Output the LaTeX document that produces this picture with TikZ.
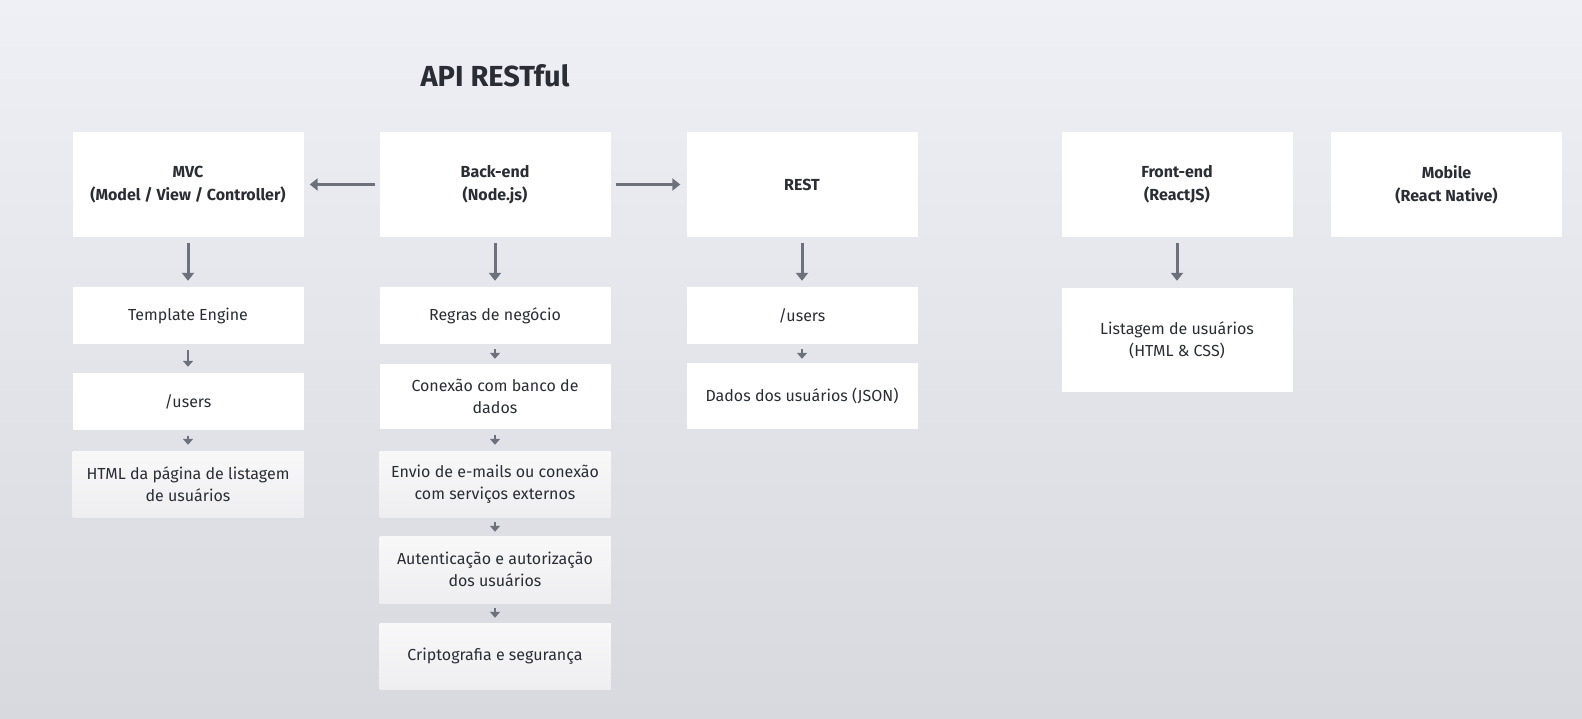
\documentclass[tikz,border=0pt]{standalone}
\usepackage{fontspec}
\setmainfont{Fira Sans}
\usetikzlibrary{arrows.meta}
\definecolor{textc}{HTML}{2B2D34}
\definecolor{arrowc}{HTML}{6C717B}
\definecolor{bgtop}{HTML}{EEF0F5}
\definecolor{bgmid}{HTML}{EAECF1}
\definecolor{bgbot}{HTML}{D8D9DE}
\definecolor{graytop}{HTML}{F8F8F9}
\definecolor{graybot}{HTML}{EEEEF0}
\begin{document}
\begin{tikzpicture}[x=1pt,y=-1pt,
  box/.style={fill=white, inner sep=0pt, align=center, text=textc,
    minimum width=231pt, font=\fontsize{16}{22}\selectfont},
  headbox/.style={box, minimum height=105pt, font=\fontsize{16}{23}\selectfont\bfseries},
  graybox/.style={box, top color=graytop, bottom color=graybot},
  bigarrow/.style={draw=arrowc, line width=3pt, -{Triangle[width=12pt,length=8pt]}},
  smallarrow/.style={draw=arrowc, line width=2.5pt, -{Triangle[width=10pt,length=6pt]}}
]
\useasboundingbox (0,0) rectangle (1582,719);
\shade[top color=bgtop, middle color=bgmid, bottom color=bgbot] (0,0) rectangle (1582,719);

\node[text=textc, font=\fontsize{29}{32}\selectfont\bfseries] (title) at (495,76) {API RESTful};

\node[headbox] (mvc) at (188,184.5) {MVC\\(Model / View / Controller)};
\node[headbox] (back) at (495,184.5) {Back-end\\(Node.js)};
\node[headbox] (rest) at (802,184.5) {REST};
\node[headbox] (front) at (1177,184.5) {Front-end\\(ReactJS)};
\node[headbox] (mobile) at (1446.5,184.5) {Mobile\\(React Native)};

\node[box, minimum height=57pt] (te) at (188,315.5) {Template Engine};
\node[box, minimum height=57pt] (musers) at (188,401.5) {/users};
\node[graybox, minimum height=66pt] (html) at (188,484) {HTML da página de listagem\\de usuários};

\node[box, minimum height=57pt] (regras) at (495,315.5) {Regras de negócio};
\node[box, minimum height=65pt] (conexao) at (495,396.5) {Conexão com banco de\\dados};
\node[graybox, minimum height=66pt] (envio) at (495,484) {Envio de e-mails ou conexão\\com serviços externos};
\node[graybox, minimum height=67pt] (auth) at (495,569.5) {Autenticação e autorização\\dos usuários};
\node[graybox, minimum height=66pt] (cripto) at (495,656) {Criptografia e segurança};

\node[box, minimum height=57pt] (rusers) at (802,315.5) {/users};
\node[box, minimum height=66pt] (dados) at (802,396) {Dados dos usuários (JSON)};

\node[box, minimum height=104pt] (listagem) at (1177,340) {Listagem de usuários\\(HTML \& CSS)};

\draw[bigarrow, shorten <=4pt, shorten >=6pt] (back) -- (mvc);
\draw[bigarrow, shorten <=5pt, shorten >=6pt] (back) -- (rest);
\draw[bigarrow, shorten <=6pt, shorten >=6pt] (mvc) -- (te);
\draw[bigarrow, shorten <=6pt, shorten >=6pt] (back) -- (regras);
\draw[bigarrow, shorten <=6pt, shorten >=6pt] (rest) -- (rusers);
\draw[bigarrow, shorten <=6pt, shorten >=7pt] (front) -- (listagem);

\draw[smallarrow, shorten <=6pt, shorten >=6pt] (te) -- (musers);
\draw[smallarrow, shorten <=6pt, shorten >=6pt] (musers) -- (html);
\draw[smallarrow, shorten <=5pt, shorten >=5pt] (regras) -- (conexao);
\draw[smallarrow, shorten <=6pt, shorten >=6pt] (conexao) -- (envio);
\draw[smallarrow, shorten <=5pt, shorten >=4pt] (envio) -- (auth);
\draw[smallarrow, shorten <=5pt, shorten >=5pt] (auth) -- (cripto);
\draw[smallarrow, shorten <=5pt, shorten >=4pt] (rusers) -- (dados);
\end{tikzpicture}
\end{document}
